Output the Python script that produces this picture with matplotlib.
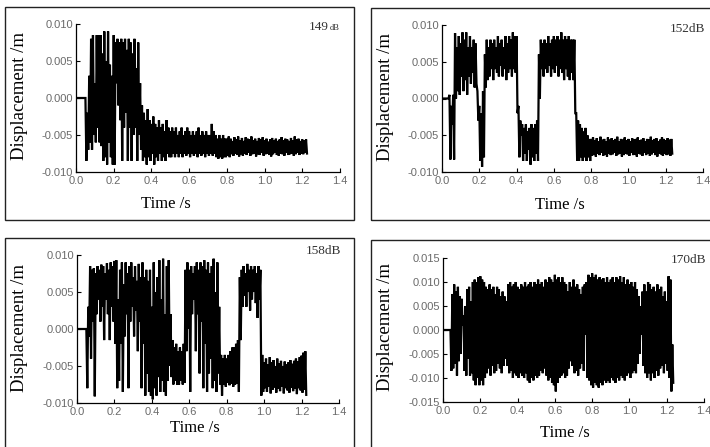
import numpy as np
import matplotlib
matplotlib.use("Agg")
import matplotlib.pyplot as plt
from matplotlib.patches import Rectangle
from matplotlib.ticker import FormatStrFormatter

# envelope values, in mm, one pair every 0.01 s
# (upper = top of the oscillation, lower = bottom)
up_149 = [0, 0, 0, 0, 0, 0, -2, 3, 8, 8.5,
          2, 8.5, 8.5, 8.5, 6, 9, 5, 9, 4.5, 3,
          8.5, 7.5, 8, 7.5, 8, 7.5, 8, 6.5, 8, 7.5,
          6, 8, 4, 7.5, 2, -1, -2, -3, -1.5, -3,
          -3.5, -2.5, -3.5, -4, -3, -4, -3.5, -4.5, -3, -4,
          -4.5, -4, -4.5, -4, -5, -4.5, -4, -5, -4.5, -4,
          -4.5, -5, -4.5, -5, -4.5, -4, -5, -4.5, -5, -4.5,
          -5, -5, -3.5, -4.5, -5, -5.5, -5, -5.5, -5, -5.5,
          -5.5, -5.2, -5.5, -5.8, -5.3, -5.6, -5.2, -5.7, -5.4, -5.8,
          -5.3, -5.5, -5.6, -5.2, -5.7, -5.5, -5.8, -5.4, -5.6, -5.3,
          -5.7, -5.5, -5.9, -5.6, -5.4, -5.7, -5.5, -5.8, -5.6, -5.3,
          -5.7, -5.5, -5.6, -5.8, -5.4, -5.7, -5.2, -5.6, -5.5, -5.8,
          -5.6, -5.7, -5.6]
lo_149 = [0, 0, 0, 0, 0, -8.5, -7, -6, -7, -5,
          -6, -4, -6, -6.5, -8.5, -8, -9, -6, -8, -9,
          -9, 2, -1, -3, -8.5, -4, -2, -8.5, -4, -8.5,
          -5, -4, -8.5, -5, -7, -8.5, -8, -9, -8, -8.5,
          -7.5, -9, -8, -8.5, -7.5, -8.5, -8, -8.5, -7.5, -8,
          -8, -7.5, -8, -7.5, -8, -7.5, -8, -7.5, -7.8, -7.5,
          -8, -7.5, -7.8, -7.5, -8, -7.5, -7.8, -7.5, -8, -7.5,
          -7.8, -7.5, -7.8, -7.5, -8, -8.2, -8, -8.2, -8, -8,
          -7.8, -8, -7.6, -7.8, -7.5, -7.7, -7.9, -7.6, -7.8, -7.5,
          -7.7, -7.4, -7.8, -7.6, -7.5, -7.9, -7.6, -7.7, -7.4, -7.8,
          -7.6, -7.5, -7.7, -7.9, -7.6, -7.4, -7.7, -7.8, -7.5, -7.6,
          -7.8, -7.4, -7.7, -7.6, -7.5, -7.8, -7.6, -7.4, -7.7, -7.5,
          -7.6, -7.4, -7.5]

up_152 = [0, 0, 0, 0, 0.5, -1, 0.5, 8.9, 7, 8.5,
          7.5, 9, 8, 9, 7, 8.5, 7, 8, 7.5, 1,
          -1, -2, 1, 6, 8, 7, 8, 7.5, 8, 7,
          8.5, 7.5, 8, 7, 8.5, 7.5, 8.5, 8, 9, 8.5,
          8.5, -1, -3, -3.5, -4, -3.5, -4.5, -4, -3.5, -4,
          -3.5, -3, 6, 8, 7.5, 8, 7.5, 8.5, 7.5, 8,
          8.5, 8, 8.5, 8, 9, 8, 8.5, 8, 8.5, 8,
          8, 8, -2, -3, -3.5, -4, -4.5, -4, -5, -5.5,
          -5.5, -5.3, -5.7, -5.4, -5.8, -5.2, -5.6, -5.5, -5.8, -5.3,
          -5.6, -5.4, -5.7, -5.5, -5.2, -5.8, -5.5, -5.6, -5.3, -5.7,
          -5.5, -5.8, -5.4, -5.6, -5.5, -5.3, -5.7, -5.6, -5.4, -5.8,
          -5.5, -5.6, -5.2, -5.7, -5.5, -5.4, -5.8, -5.6, -5.3, -5.5,
          -5.7, -5.4, -5.6, -5.5]
lo_152 = [0, 0, 0, 0, -8.3, -3.5, -8.3, 0, 1, 0.5,
          3, 1, 2.5, 0.5, 3, 2, 3.5, 1.5, 2, -3,
          -8.5, -9.3, -8, 1.5, 2.5, 3, 4, 2.5, 4, 3.5,
          3, 4.5, 3, 4, 2.5, 3.5, 4, 3, 4, 3.5,
          -2, -8, -5, -8.5, -7.5, -8.5, -7, -9, -8, -8.5,
          -7.5, -8.5, 0, 4, 3, 4, 3.5, 4.5, 3, 4,
          3.5, 4.5, 3, 4, 3.5, 2.5, 4, 3, 2.5, 3.5,
          2.5, -2, -8.5, -8.5, -8, -8.5, -8, -8.5, -8, -8.5,
          -7.8, -7.6, -7.9, -7.5, -7.7, -7.4, -7.8, -7.6, -7.9, -7.5,
          -7.7, -7.6, -7.4, -7.8, -7.6, -7.5, -7.9, -7.7, -7.5, -7.6,
          -7.8, -7.4, -7.7, -7.6, -7.9, -7.5, -7.6, -7.8, -7.4, -7.7,
          -7.5, -7.8, -7.6, -7.4, -7.7, -7.9, -7.5, -7.6, -7.8, -7.5,
          -7.7, -7.6, -7.8, -7.5]

up_158 = [0, 0, 0, 0, 0, 0, 3, 8.5, 8, 8.2,
          7.5, 8.5, 8, 8.7, 8.5, 7.5, 8.9, 8, 9, 8.5,
          9.2, 9.3, 4, 8, 9, 6, 9, 7.5, 8.5, 9,
          7, 8.5, 6.5, 8.8, 7, 9, 7, 8, 6.5, 8,
          3, 9, 5, 7, 9.3, 4, 9.5, 2, 8.5, 9.3,
          2, -1.5, -2.5, -2, -3, -2.5, -3, -2, 8, 9,
          8, 8.5, 7.5, 8.5, 9, 8, 9, 8.5, 9.3, 8,
          9, 7.5, 8.5, 9.5, 5, 9, 3, -3.5, -4, -3.5,
          -4, -3.5, -3, -2.5, -2.5, -2, -1.5, 7, 8, 8.5,
          7.5, 8.8, 8, 8.5, 8, 8.5, 7.5, 8.5, 8, -3.5,
          -4.5, -4, -4.8, -3.8, -4.5, -4.2, -5, -4, -4.6, -4.3,
          -5, -4.4, -4.8, -4.5, -4.2, -4.7, -4.3, -4, -4.4, -3.8,
          -3.6, -3.2, -3]
lo_158 = [0, 0, 0, 0, 0, -8, -1, -4, 1, -9.1,
          2, 4, 1, 3, -1.5, 4, 2, -1.5, 3, 1,
          -2, -8, -7, -2, -8.5, -1, 2, -8, 1, 3,
          -1, 2.5, -3, 1, -8, -2, -9, -6, -8.5, -9,
          -9.5, -8, -9, -6.5, -8.5, -7, -8.5, -9, -7, -5,
          -6.5, -7.5, -7, -7.5, -7.5, -7, -7.5, -7.3, -3, 0,
          -8.5, 2, 4, -3, 2, -6, 1, -8, -2, -8.5,
          -6, -4, -8, -7, -8.5, -6, -7.5, -9, -7.5, -7.8,
          -7.3, -7.6, -7.4, -7.8, -7.5, -7.4, -8.5, -1.5, 3, 4.5,
          3, 5, 2.5, 4, 5, 3.5, 1.5, 4, -9, -8.5,
          -8, -8.5, -7.8, -8.7, -8.2, -7.9, -8.6, -8.1, -8.4, -7.8,
          -8.7, -8, -8.3, -8.6, -7.9, -8.4, -8.1, -8.8, -8, -8.3,
          -8.6, -8.2, -8.9]

up_170 = [0, 0, 0, 0, 0, 7.5, 9.5, 8, 9, 7,
          6.5, 3, 5, 8.5, 9, 6, 10, 10.5, 10, 11,
          11.2, 10.5, 10, 9, 8.5, 9.5, 8.5, 9, 7.5, 9,
          8.5, 7, 8, 7, 6, 9.5, 10, 9, 9.5, 10,
          9, 8.5, 9.5, 9, 10, 9, 9.5, 10, 9, 10,
          9.5, 10.5, 9.5, 10, 9, 10.5, 10, 11, 10.5, 10,
          11.5, 10.5, 11, 10, 11, 10, 9.5, 8, 10, 9,
          10.5, 9, 9.5, 8.5, 7.5, 9, 9.5, 10, 11.5, 11,
          11.8, 11, 11.5, 10.5, 11, 10.5, 10.8, 10, 11, 10,
          10.5, 11, 10, 11, 10.5, 11.2, 10, 11, 9.5, 10.5,
          9.5, 10, 9, 10, 8.5, 7, 5, 8, 9.5, 8,
          10, 9.5, 8.5, 9, 8, 9.5, 8.5, 9, 7, 8,
          6, 11.2, 10.5, -3]
lo_170 = [0, 0, 0, 0, -8.5, -8, -7, -9.5, -6.5, -5,
          1, -8.5, -9.5, -6, -9.5, -9, -10.5, -11.5, -10, -11.5,
          -10.5, -11.5, -10, -9, -8, -9.5, -7.5, -9, -8.5, -7,
          -8, -9, -7.5, -6, -7.5, -9, -8.5, -10, -9, -9.5,
          -10, -9, -9.5, -10, -9, -10.5, -11, -10, -10.5, -9.5,
          -10, -9.5, -8.5, -9, -8, -9.5, -10.5, -10, -11, -11.5,
          -12.8, -11, -10, -9.5, -9, -10, -9.5, -8, -6.5, -7.5,
          -9, -8.5, -9.5, -8, -7, -8.5, -1, -10, -10.5, -11.5,
          -12, -11, -11.5, -12, -11, -11.5, -10.5, -11, -10.5, -11,
          -10, -10.5, -11, -10, -10.5, -9.5, -10, -10.5, -9.5, -9,
          -10, -9, -8.5, -9, -7, -5, -1, -7.5, -9, -10,
          -9, -10.5, -9, -10, -8.5, -9.5, -8, -7.5, -9, -7,
          -8.5, -10, -12.8, -11]

labels = ["149", "152", "158", "170"]
uppers = [up_149, up_152, up_158, up_170]
lowers = [lo_149, lo_152, lo_158, lo_170]
ylims = [0.010, 0.010, 0.010, 0.015]
yticks = [[-0.010, -0.005, 0.0, 0.005, 0.010]] * 3 + \
         [[-0.015, -0.010, -0.005, 0.0, 0.005, 0.010, 0.015]]

W, H = 710, 447
serif = ["Liberation Serif", "DejaVu Serif"]
sans = ["Liberation Sans", "DejaVu Sans"]

fig = plt.figure(figsize=(W / 100, H / 100), dpi=100)

# pixel boxes: axes (l, t, r, b), frame (l, t, r, b), ylabel (x, y), xlabel (x, y)
axes_px = [(76, 24, 340, 172), (442, 25, 703, 172),
           (77, 255, 339, 403), (443, 258, 704, 402)]
frames_px = [(5, 7, 354, 220), (371, 8, 715, 220),
             (5, 238, 354, 455), (371, 240, 715, 455)]
ylab_px = [(20, 96), (385, 97), (20, 328), (385, 327)]
xlab_px = [(166, 204), (560, 205), (195, 428), (565, 433)]
tag_y = [0.0095, 0.0095, 0.0106, 0.0146]

for k in range(4):
    l, t, r, b = frames_px[k]
    fig.add_artist(Rectangle((l / W, 1 - b / H), (r - l) / W, (b - t) / H,
                             transform=fig.transFigure, fill=False,
                             lw=1.0, ec="#222222"))

    l, t, r, b = axes_px[k]
    ax = fig.add_axes([l / W, 1 - b / H, (r - l) / W, (b - t) / H])

    up = np.array(uppers[k]) * 1e-3
    lo = np.array(lowers[k]) * 1e-3
    tt = np.arange(len(up)) * 0.01
    x = np.empty(2 * len(up))
    y = np.empty(2 * len(up))
    x[0::2] = tt
    x[1::2] = tt + 0.005
    y[0::2] = up
    y[1::2] = lo
    ax.plot(x, y, color="black", lw=1.6, solid_joinstyle="miter")

    ax.set_xlim(0, 1.4)
    ax.set_ylim(-ylims[k], ylims[k])
    ax.set_xticks(np.arange(0, 1.41, 0.2))
    ax.set_yticks(yticks[k])
    ax.xaxis.set_major_formatter(FormatStrFormatter("%.1f"))
    ax.yaxis.set_major_formatter(FormatStrFormatter("%.3f"))
    ax.tick_params(direction="in", length=3, width=0.8, labelsize=8,
                   labelcolor="#6a6a6a")
    ax.tick_params(axis="y", pad=2)
    ax.tick_params(axis="x", pad=3)
    for lab in ax.get_xticklabels() + ax.get_yticklabels():
        lab.set_family(sans)
    ax.spines["top"].set_visible(False)
    ax.spines["right"].set_visible(False)
    ax.spines["left"].set_linewidth(0.9)
    ax.spines["bottom"].set_linewidth(0.9)
    ax.patch.set_alpha(0)

    # level tag at top right
    if k == 0:
        ax.text(1.4, tag_y[k], "dB", ha="right", va="center", fontsize=6,
                family=serif, color="#333333", clip_on=False)
        ax.annotate(labels[k], xy=(1.4, tag_y[k]), xytext=(-8, 0.5),
                    textcoords="offset points", ha="right", va="center",
                    fontsize=9.5, family=serif, color="#333333")
    else:
        ax.text(1.41, tag_y[k], labels[k] + "dB", ha="right", va="center",
                fontsize=9.5, family=serif, color="#333333", clip_on=False)

    fig.text(ylab_px[k][0] / W, 1 - ylab_px[k][1] / H, "Displacement /m",
             rotation=90, ha="center", va="center", fontsize=13.5, family=serif)
    fig.text(xlab_px[k][0] / W, 1 - xlab_px[k][1] / H, "Time /s",
             ha="center", va="center", fontsize=12, family=serif)

fig.savefig("out.png", dpi=100)
